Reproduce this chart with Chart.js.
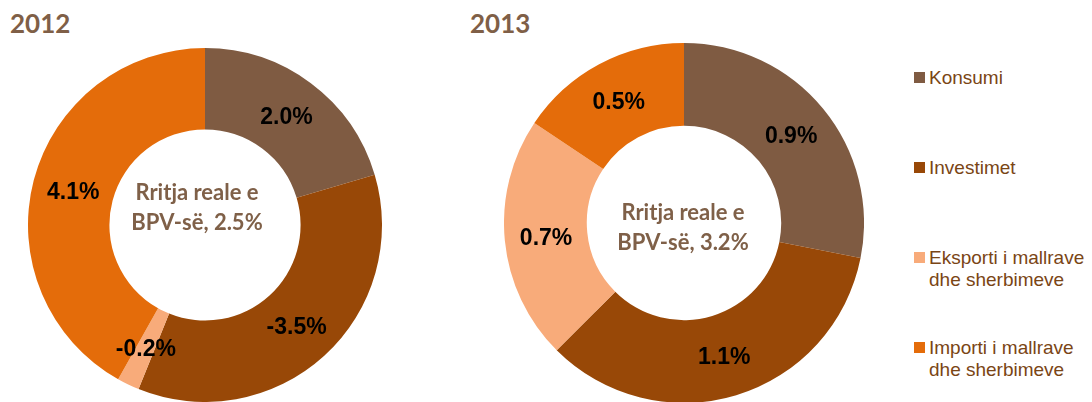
<!DOCTYPE html>
<html>
<head>
<meta charset="utf-8">
<script src="https://cdn.jsdelivr.net/npm/chart.js@4/dist/chart.umd.min.js"></script>
<style>
    body { margin: 0; background: #fff; }
    #wrap { position: relative; width: 1092px; height: 402px; overflow: hidden; }
    .titulo { position: absolute; font: bold 26px Lato, sans-serif; color: #7F5F47; }
    .centro { position: absolute; font: bold 22px Lato, sans-serif; color: #7F6048; text-align: center; line-height: 30px; width: 180px; }
    #c2012 { position: absolute; left: 28px; top: 48px; }
    #c2013 { position: absolute; left: 504px; top: 43px; }
    #leyenda { position: absolute; left: 914px; top: 0; font: 19px "Liberation Sans", Arial, sans-serif; color: #7A4515; }
    .item { position: absolute; left: 0; white-space: nowrap; line-height: 22px; }
    .item span { display: inline-block; width: 11px; height: 11px; margin-right: 4px; vertical-align: 1px; }
    .item div { margin-left: 15px; }
</style>
</head>
<body>
<div id="wrap">
    <div class="titulo" style="left:10px; top:7px;">2012</div>
    <div class="titulo" style="left:470px; top:7px;">2013</div>
    <canvas id="c2012" width="354" height="354"></canvas>
    <canvas id="c2013" width="360" height="360"></canvas>
    <div class="centro" style="left:107px; top:177px;">Rritja reale e<br>BPV-së, 2.5%</div>
    <div class="centro" style="left:593px; top:197px;">Rritja reale e<br>BPV-së, 3.2%</div>
    <div id="leyenda"></div>
</div>
<script>
// Datos de las gráficas
const categorias = ['Konsumi', 'Investimet', 'Eksporti i mallrave\ndhe sherbimeve', 'Importi i mallrave\ndhe sherbimeve'];
const colores = ['#7F5B42', '#984807', '#F8AB7A', '#E46C0A'];
const valores2012 = [2.0, -3.5, -0.2, 4.1];
const valores2013 = [0.9, 1.1, 0.7, 0.5];

// Etiquetas en el centro de cada porción
const etiquetasPlugin = {
    id: 'etiquetas',
    afterDatasetsDraw(chart) {
        const ctx = chart.ctx;
        const valores = chart.data.datasets[0].valores;
        chart.getDatasetMeta(0).data.forEach((arco, i) => {
            const pos = arco.tooltipPosition();
            ctx.save();
            ctx.font = 'bold 23px "Liberation Sans", Arial, sans-serif';
            ctx.fillStyle = '#000';
            ctx.textAlign = 'center';
            ctx.textBaseline = 'middle';
            ctx.fillText(valores[i].toFixed(1) + '%', pos.x, pos.y + 2);
            ctx.restore();
        });
    }
};

function crearDona(id, valores) {
    new Chart(document.getElementById(id), {
        type: 'doughnut',
        data: {
            labels: categorias,
            datasets: [{
                data: valores.map(v => Math.abs(v)),
                valores: valores,
                backgroundColor: colores,
                borderWidth: 0
            }]
        },
        options: {
            responsive: false,
            animation: false,
            events: [],
            cutout: '54%',
            layout: { padding: 0 },
            plugins: {
                legend: { display: false },
                tooltip: { enabled: false }
            }
        },
        plugins: [etiquetasPlugin]
    });
}

crearDona('c2012', valores2012);
crearDona('c2013', valores2013);

// Leyenda
const posY = [67, 157, 247, 337];
const leyenda = document.getElementById('leyenda');
categorias.forEach((cat, i) => {
    const lineas = cat.split('\n');
    const item = document.createElement('div');
    item.className = 'item';
    item.style.top = posY[i] + 'px';
    item.innerHTML = '<span style="background:' + colores[i] + '"></span>' + lineas[0] +
        (lineas[1] ? '<div>' + lineas[1] + '</div>' : '');
    leyenda.appendChild(item);
});
</script>
</body>
</html>
